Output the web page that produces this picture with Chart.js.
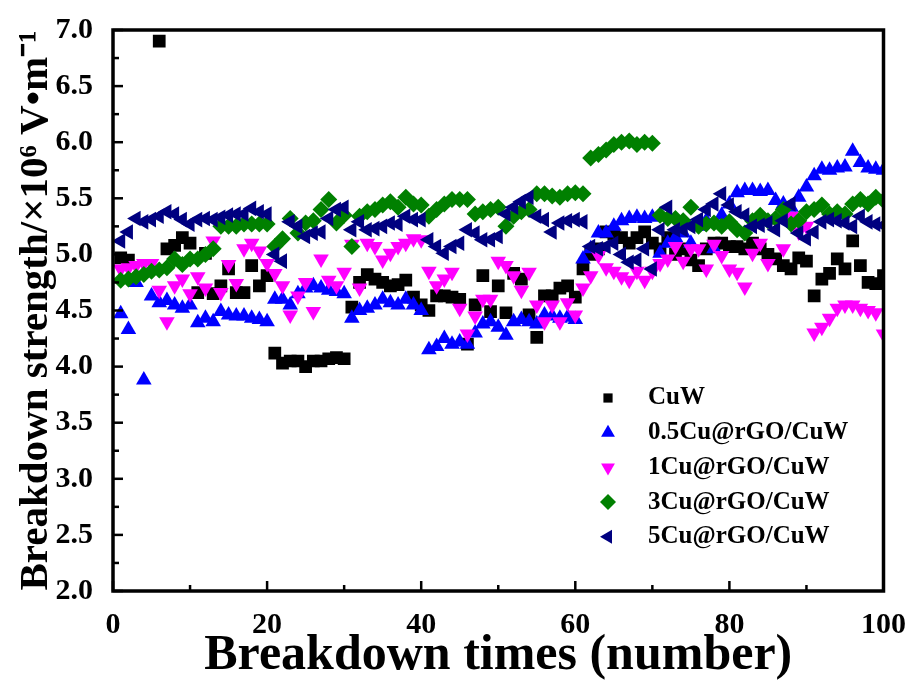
<!DOCTYPE html>
<html>
<head>
<meta charset="utf-8">
<script src="https://cdn.jsdelivr.net/npm/chart.js@4.4.1/dist/chart.umd.min.js"></script>
<style>
  html, body { margin: 0; padding: 0; background: #fff; }
  #wrap { width: 914px; height: 686px; position: relative; }
</style>
</head>
<body>
<div id="wrap"><canvas id="c"></canvas></div>
<script>
// ---- data ----
const breakdownTimes = [
  1,2,3,4,5,6,7,8,9,10,11,12,13,14,15,16,17,18,19,20,
  21,22,23,24,25,26,27,28,29,30,31,32,33,34,35,36,37,38,39,40,
  41,42,43,44,45,46,47,48,49,50,51,52,53,54,55,56,57,58,59,60,
  61,62,63,64,65,66,67,68,69,70,71,72,73,74,75,76,77,78,79,80,
  81,82,83,84,85,86,87,88,89,90,91,92,93,94,95,96,97,98,99,100
];
const seriesNames = ['CuW', '0.5Cu@rGO/CuW', '1Cu@rGO/CuW', '3Cu@rGO/CuW', '5Cu@rGO/CuW'];

const cuW = [
  4.97,4.95,null,null,null,6.90,5.05,5.08,5.15,5.10,
  4.66,5.01,4.65,4.72,4.87,4.66,4.66,4.90,4.72,4.81,
  4.12,4.03,4.05,4.05,4.00,4.05,4.05,4.07,4.08,4.07,
  4.53,4.75,4.82,4.78,4.75,4.72,4.73,4.77,4.62,4.55,
  4.50,4.63,4.63,4.62,4.60,4.20,4.55,4.81,4.49,4.72,
  4.48,4.83,4.78,4.46,4.26,4.63,4.63,4.70,4.72,4.62,
  4.87,5.00,5.05,5.20,5.18,5.15,5.10,5.15,5.20,5.10,
  5.05,5.15,5.00,5.05,4.95,4.90,5.05,5.10,5.10,5.07,
  5.07,5.05,5.10,5.05,5.00,4.96,4.90,4.87,4.97,4.94,
  4.63,4.78,4.83,4.96,4.87,5.12,4.90,4.75,4.74,4.81
];
const cu05 = [
  4.47,4.33,4.75,3.88,4.63,4.57,4.59,4.55,4.52,4.55,
  4.39,4.43,4.40,4.49,4.46,4.45,4.45,4.43,4.42,4.40,
  4.60,4.60,4.55,4.65,4.70,4.72,4.70,4.68,4.67,4.65,
  4.43,4.50,4.52,4.55,4.60,4.57,4.55,4.60,4.55,4.50,
  4.15,4.18,4.25,4.20,4.22,4.20,4.30,4.38,4.40,4.35,
  4.28,4.40,4.42,4.40,4.38,4.46,4.45,4.43,4.44,4.42,
  4.96,5.05,5.19,5.19,5.25,5.30,5.32,5.33,5.32,5.33,
  5.01,5.10,5.15,5.19,5.10,5.25,5.30,5.05,5.35,5.45,
  5.55,5.57,5.57,5.56,5.57,5.48,5.45,5.42,5.51,5.60,
  5.70,5.76,5.75,5.77,5.78,5.92,5.82,5.77,5.76,5.75
];
const cu1 = [
  4.87,4.88,4.90,4.92,4.92,4.68,4.40,4.72,4.78,4.65,
  4.80,4.70,5.12,4.66,4.91,4.74,5.05,5.10,5.03,4.92,
  4.83,4.72,4.46,4.63,4.75,4.49,4.96,4.77,4.72,4.84,
  5.09,4.70,5.10,5.07,4.95,5.01,5.07,5.10,5.14,5.13,
  4.85,4.72,4.78,4.84,4.52,4.29,4.45,4.60,4.60,4.94,
  4.90,4.81,4.68,4.84,4.55,4.40,4.55,4.40,4.57,4.46,
  4.70,4.81,4.99,4.88,4.85,4.80,4.77,4.85,4.77,4.85,
  4.92,4.96,5.07,4.94,5.05,5.05,4.87,5.09,4.99,4.87,
  4.84,4.71,5.01,5.10,4.92,5.31,5.05,5.34,5.20,5.25,
  4.30,4.35,4.43,4.52,4.55,4.55,4.52,4.50,4.48,4.29
];
const cu3 = [
  4.77,4.78,4.80,4.82,4.85,4.86,4.88,4.96,4.91,4.96,
  4.96,5.00,5.05,5.25,5.25,5.25,5.27,5.27,5.27,5.27,
  5.07,5.14,5.32,5.19,5.28,5.30,5.40,5.49,5.28,5.35,
  5.07,5.34,5.38,5.40,5.44,5.47,5.42,5.51,5.45,5.44,
  5.34,5.40,5.45,5.49,5.49,5.49,5.36,5.38,5.40,5.42,
  5.25,5.34,5.38,5.40,5.54,5.54,5.52,5.51,5.54,5.55,
  5.54,5.86,5.89,5.93,5.98,6.00,6.01,5.98,6.00,5.99,
  5.35,5.32,5.32,5.30,5.42,5.25,5.27,5.28,5.25,5.29,
  5.22,5.19,5.30,5.35,5.30,5.32,5.40,5.27,5.30,5.38,
  5.40,5.44,5.36,5.38,5.36,5.45,5.49,5.45,5.51,5.48
];
const cu5 = [
  5.12,5.20,5.32,5.29,5.31,5.34,5.38,5.36,5.31,5.27,
  5.31,5.32,5.31,5.33,5.35,5.36,5.36,5.41,5.38,5.36,
  5.00,4.94,5.29,5.25,5.16,5.19,5.20,5.32,5.40,5.42,
  5.22,5.29,5.22,5.23,5.25,5.28,5.27,5.34,5.31,5.31,
  5.13,5.07,5.01,5.07,5.10,5.22,5.19,5.13,5.13,5.16,
  5.36,5.42,5.47,5.51,5.34,5.31,5.20,5.28,5.30,5.31,
  5.29,5.07,5.05,5.07,5.10,5.00,4.93,4.95,5.05,4.87,
  5.22,5.42,5.22,5.22,5.25,5.31,5.40,5.45,5.54,5.44,
  5.38,5.35,5.25,5.26,5.28,5.22,5.30,5.45,5.19,5.14,
  5.20,5.29,5.31,5.30,5.28,5.25,5.34,5.29,5.27,5.26
];
const yTickValues = [2.0, 2.5, 3.0, 3.5, 4.0, 4.5, 5.0, 5.5, 6.0, 6.5, 7.0];
const xTickValues = [0, 20, 40, 60, 80, 100];

// ---- styling ----
const SERIF = "'Liberation Serif', 'Times New Roman', serif";
const seriesStyles = [
  { color: '#000000', pointStyle: 'rect', radius: 9, rotation: 0 },
  { color: '#0000FF', pointStyle: 'triangle', radius: 9, rotation: 0 },
  { color: '#FF00FF', pointStyle: 'triangle', radius: 9, rotation: 180 },
  { color: '#008000', pointStyle: 'rectRot', radius: 8.5, rotation: 0 },
  { color: '#000080', pointStyle: 'triangle', radius: 9, rotation: 270 }
];
const seriesValues = [cuW, cu05, cu1, cu3, cu5];

function toPoints(vals) {
  const pts = [];
  vals.forEach((v, i) => { if (v !== null) pts.push({ x: breakdownTimes[i], y: v }); });
  return pts;
}

const datasets = seriesNames.map((name, i) => ({
  label: name,
  data: toPoints(seriesValues[i]),
  backgroundColor: seriesStyles[i].color,
  borderColor: seriesStyles[i].color,
  borderWidth: 0,
  pointStyle: seriesStyles[i].pointStyle,
  pointRadius: seriesStyles[i].radius,
  pointHoverRadius: seriesStyles[i].radius,
  pointRotation: seriesStyles[i].rotation,
  order: seriesNames.length - i
}));

// frame, inward ticks and legend
const framePlugin = {
  id: 'frame',
  afterDraw(chart) {
    const { ctx, chartArea: a, scales } = chart;
    const xs = scales.x, ys = scales.y;
    ctx.save();
    ctx.strokeStyle = '#000';
    ctx.lineWidth = 2.5;
    for (let v = 0; v <= 100; v += 10) {
      const px = xs.getPixelForValue(v);
      const len = (v % 20 === 0) ? 10 : 6;
      ctx.beginPath(); ctx.moveTo(px, a.bottom); ctx.lineTo(px, a.bottom - len); ctx.stroke();
    }
    for (let k = 0; k <= 20; k++) {
      const v = 2 + k * 0.25;
      const py = ys.getPixelForValue(v);
      const len = (k % 2 === 0) ? 10 : 6;
      ctx.beginPath(); ctx.moveTo(a.left, py); ctx.lineTo(a.left + len, py); ctx.stroke();
    }
    ctx.lineWidth = 3.5;
    ctx.strokeRect(a.left, a.top, a.right - a.left, a.bottom - a.top);

    // legend
    const lx = a.left + 495, tx = a.left + 535, ly0 = a.top + 368, dy = 34.7;
    ctx.font = 'bold 25px ' + SERIF;
    ctx.textBaseline = 'middle';
    ctx.textAlign = 'left';
    chart.data.datasets.forEach((ds, i) => {
      const y = ly0 + i * dy;
      ctx.fillStyle = ds.backgroundColor;
      ctx.strokeStyle = ds.borderColor;
      Chart.helpers.drawPoint(ctx, {
        pointStyle: ds.pointStyle,
        radius: ds.pointStyle === 'rect' ? 6.5 : 8,
        rotation: ds.pointRotation,
        borderWidth: 0
      }, lx, y);
      ctx.fillStyle = '#000';
      ctx.fillText(ds.label, tx, y);
    });
    ctx.restore();
  }
};

new Chart(document.getElementById('c'), {
  type: 'scatter',
  data: { datasets },
  options: {
    responsive: true,
    maintainAspectRatio: false,
    animation: false,
    devicePixelRatio: 1,
    layout: { padding: { left: 0, top: 20, right: 27, bottom: 0 } },
    plugins: { legend: { display: false }, tooltip: { enabled: false } },
    scales: {
      x: {
        type: 'linear', min: 0, max: 100,
        grid: { display: false },
        border: { display: false },
        afterFit(s) { s.height = 95; },
        afterBuildTicks(s) { s.ticks = xTickValues.map(v => ({ value: v })); },
        ticks: {
          padding: 8,
          color: '#000',
          font: { family: SERIF, size: 30, weight: 'bold' },
          maxRotation: 0,
          callback: v => String(v)
        },
        title: {
          display: true,
          text: 'Breakdown times (number)',
          color: '#000',
          font: { family: SERIF, size: 50, weight: 'bold' },
          padding: { top: 0, bottom: 0 }
        }
      },
      y: {
        type: 'linear', min: 2, max: 7,
        grid: { display: false },
        border: { display: false },
        afterFit(s) { s.width = 113; },
        afterBuildTicks(s) { s.ticks = yTickValues.map(v => ({ value: v })); },
        ticks: {
          padding: 12,
          color: '#000',
          font: { family: SERIF, size: 30, weight: 'bold' },
          callback: v => Number(v).toFixed(1)
        },
        title: {
          display: true,
          text: 'Breakdown strength/×10⁶ V•m⁻¹',
          color: '#000',
          font: { family: SERIF, size: 41, weight: 'bold' },
          padding: { top: 12, bottom: 0 }
        }
      }
    }
  },
  plugins: [framePlugin]
});
</script>
</body>
</html>
